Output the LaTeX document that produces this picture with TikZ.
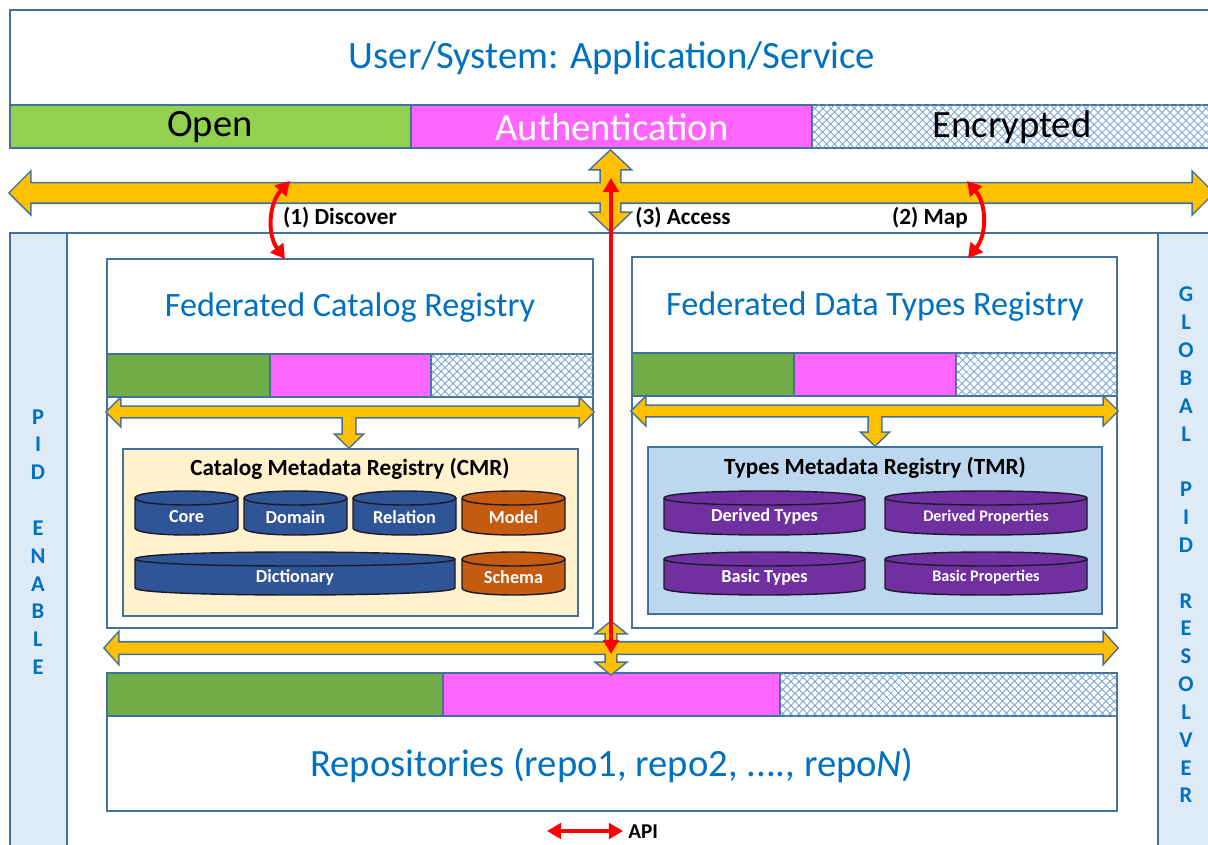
\documentclass[tikz,border=0pt]{standalone}
\usepackage{fontspec}
\setmainfont{Carlito}
\usetikzlibrary{arrows.meta,patterns.meta,fit}
\definecolor{bd}{HTML}{41719C}
\definecolor{tblue}{HTML}{0070C0}
\definecolor{gOpen}{HTML}{92D050}
\definecolor{gDark}{HTML}{70AD47}
\definecolor{mag}{HTML}{FF66FF}
\definecolor{orng}{HTML}{FFC000}
\definecolor{panel}{HTML}{DEEBF7}
\definecolor{cmrfill}{HTML}{FFF2CC}
\definecolor{tmrfill}{HTML}{BDD7EE}
\definecolor{cylblue}{HTML}{2F5597}
\definecolor{cylor}{HTML}{C55A11}
\definecolor{cylpur}{HTML}{7030A0}
\definecolor{hatch}{HTML}{6A97D0}
\definecolor{cylline}{HTML}{1A1A2A}

\tikzset{
  every node/.style={inner sep=0pt},
  box/.style={draw=bd, line width=1.2pt, fill=white, inner sep=0pt},
  encbox/.style={box,
    postaction={pattern={Lines[angle=45,distance=4pt,line width=0.7pt]}, pattern color=hatch},
    postaction={pattern={Lines[angle=-45,distance=4pt,line width=0.7pt]}, pattern color=hatch}},
  bigtxt/.style={font=\fontsize{27.5}{33}\selectfont},
  regtxt/.style={font=\fontsize{24.3}{29}\selectfont, text=tblue},
  lbltxt/.style={font=\fontsize{16.5}{20}\selectfont\bfseries},
  vtxt/.style={font=\fontsize{16}{19.8}\selectfont\bfseries, text=tblue, align=center},
  cyltxt/.style={font=\fontsize{13}{15}\selectfont\bfseries, text=white},
  cylsmall/.style={font=\fontsize{11.5}{14}\selectfont\bfseries, text=white},
  cylb/.style={draw=cylline, line width=1pt},
  redarr/.style={draw=red, line width=2.8pt, {Triangle[length=10pt,width=11pt]}-{Triangle[length=10pt,width=11pt]}}
}

% horizontal double block arrow: style, xL, xR, y, shaft half, head half, head length
\newcommand{\oh}[7]{\path[#1] (#2,#4) -- ({#2+#7},{#4-#6}) -- ({#2+#7},{#4-#5}) -- ({#3-#7},{#4-#5}) -- ({#3-#7},{#4-#6}) -- (#3,#4) -- ({#3-#7},{#4+#6}) -- ({#3-#7},{#4+#5}) -- ({#2+#7},{#4+#5}) -- ({#2+#7},{#4+#6}) -- cycle;}
% vertical double block arrow: style, x, yT, yB, shaft half, head half, head length
\newcommand{\ov}[7]{\path[#1] (#2,#3) -- ({#2+#6},{#3+#7}) -- ({#2+#5},{#3+#7}) -- ({#2+#5},{#4-#7}) -- ({#2+#6},{#4-#7}) -- (#2,#4) -- ({#2-#6},{#4-#7}) -- ({#2-#5},{#4-#7}) -- ({#2-#5},{#3+#7}) -- ({#2-#6},{#3+#7}) -- cycle;}
% down block arrow: style, x, y0, ytip, shaft half, head half, head length
\newcommand{\od}[7]{\path[#1] ({#2-#5},#3) -- ({#2-#5},{#4-#7}) -- ({#2-#6},{#4-#7}) -- (#2,#4) -- ({#2+#6},{#4-#7}) -- ({#2+#5},{#4-#7}) -- ({#2+#5},#3) -- cycle;}
\newcommand{\allorange}[1]{%
  \oh{#1}{10}{1213}{193}{9.5}{20}{20}
  \ov{#1}{610.5}{151}{231}{9.5}{19}{18}
  \oh{#1}{107}{593}{412}{5}{13}{13}
  \od{#1}{349}{412}{447}{6}{12.5}{12}
  \oh{#1}{632}{1117}{411}{5}{13}{13}
  \od{#1}{875}{411}{445}{6}{12.5}{12}
  \oh{#1}{105}{1117}{648}{5.5}{14.5}{13}
  \ov{#1}{611}{622}{674}{5}{13.5}{11}
}
% cylinder: name, x1, y1, x2, y2, fill, text, text style
\newcommand{\cyl}[8]{%
  \draw[cylb, fill=#6] (#2,{#3+7}) -- (#2,{#5-7}) .. controls (#2,{#5+2.33}) and (#4,{#5+2.33}) .. (#4,{#5-7}) -- (#4,{#3+7}) .. controls (#4,{#3-2.33}) and (#2,{#3-2.33}) .. (#2,{#3+7}) -- cycle;
  \draw[cylb] (#2,{#3+7}) .. controls (#2,{#3+16.33}) and (#4,{#3+16.33}) .. (#4,{#3+7});
  \node[#8] (#1) at ({(#2+#4)/2},{(#3+#5)/2+4}) {#7};
}

\begin{document}
\begin{tikzpicture}[x=0.025cm, y=-0.025cm]
\useasboundingbox (0,0) rectangle (1208,845);
\clip (0,0) rectangle (1208,845);

% main container and side panels
\node[box, fit={(10,233)(1215,870)}] (main) {};
\node[box, fill=panel, fit={(10,233)(67,870)}] (pidl) {};
\node[box, fill=panel, fit={(1158,233)(1215,870)}] (pidr) {};
\node[vtxt] (pidltxt) at (38,542) {P\\I\\D\\\mbox{}\\E\\N\\A\\B\\L\\E};
\node[vtxt] (pidrtxt) at (1186,545) {G\\L\\O\\B\\A\\L\\\mbox{}\\P\\I\\D\\\mbox{}\\R\\E\\S\\O\\L\\V\\E\\R};

% top box
\node[box, fit={(10,10)(1215,148)}] (top) {};
\node[box, fill=gOpen, fit={(10,105)(411,148)}] (sopen) {};
\node[box, fill=mag, fit={(411,105)(812,148)}] (sauth) {};
\node[encbox, fit={(812,105)(1215,148)}] (senc) {};
\node[bigtxt, text=tblue] (ttl) at (612,58) {User/System: Application/Service};
\node[bigtxt] (open) at (210,127) {Open};
\node[bigtxt, text=white] (auth) at (612,127) {Authentication};
\node[bigtxt] (enc) at (1012,127) {Encrypted};

% Federated Catalog Registry
\node[box, fit={(107,259)(593,628)}] (cat) {};
\node[box, fill=gDark, fit={(107,354)(270,397)}] (catg) {};
\node[box, fill=mag, fit={(270,354)(431,397)}] (catm) {};
\node[encbox, fit={(431,354)(593,397)}] (cate) {};
\node[regtxt] (catttl) at (350,308) {Federated Catalog Registry};
\node[box, fill=cmrfill, fit={(123,449)(578,616)}] (cmr) {};
\node[lbltxt] (cmrttl) at (350,469) {Catalog Metadata Registry (CMR)};
\cyl{core}{135}{491}{238}{535}{cylblue}{Core}{cyltxt}
\cyl{domain}{244}{491}{347}{535}{cylblue}{Domain}{cyltxt}
\cyl{relation}{353}{491}{456}{535}{cylblue}{Relation}{cyltxt}
\cyl{model}{462}{491}{565}{535}{cylor}{Model}{cyltxt}
\cyl{dict}{135}{552}{455}{595}{cylblue}{Dictionary}{cyltxt}
\cyl{schema}{462}{552}{565}{595}{cylor}{Schema}{cyltxt}

% Federated Data Types Registry
\node[box, fit={(632,257)(1117,628)}] (typ) {};
\node[box, fill=gDark, fit={(632,353)(794,396)}] (typg) {};
\node[box, fill=mag, fit={(794,353)(956,396)}] (typm) {};
\node[encbox, fit={(956,353)(1117,396)}] (type) {};
\node[regtxt] (typttl) at (875,307) {Federated Data Types Registry};
\node[box, fill=tmrfill, fit={(648,447)(1102,614)}] (tmr) {};
\node[lbltxt] (tmrttl) at (875,468) {Types Metadata Registry (TMR)};
\cyl{dtypes}{664}{491}{865}{535}{cylpur}{Derived Types}{cyltxt}
\cyl{dprops}{885}{491}{1087}{535}{cylpur}{Derived Properties}{cylsmall}
\cyl{btypes}{664}{552}{865}{595}{cylpur}{Basic Types}{cyltxt}
\cyl{bprops}{885}{552}{1087}{595}{cylpur}{Basic Properties}{cylsmall}

% Repositories
\node[box, fit={(107,673)(1117,811)}] (repo) {};
\node[box, fill=gDark, fit={(107,673)(443,716)}] (repog) {};
\node[box, fill=mag, fit={(443,673)(780,716)}] (repom) {};
\node[encbox, fit={(780,673)(1117,716)}] (repoe) {};
\node[bigtxt, text=tblue] (repotxt) at (612,765) {Repositories (repo1, repo2, ...., repo\textit{N})};

% orange block arrows (outline pass, then fill pass for a merged look)
\allorange{draw=bd, line width=2.2pt}
\allorange{fill=orng}

% red API arrows
\coordinate (d1) at (290,181);
\coordinate (d2) at (285,259);
\coordinate (m1) at (967,181);
\coordinate (m2) at (968,258);
\coordinate (a1) at (611,178);
\coordinate (a2) at (611,654);
\coordinate (api1) at (547,831);
\coordinate (api2) at (623,831);
\draw[redarr] (d1) to[bend right=40] (d2);
\draw[redarr] (m1) to[bend left=40] (m2);
\draw[redarr] (a1) -- (a2);
\draw[redarr] (api1) -- (api2);

\node[lbltxt] (disc) at (340,218) {(1) Discover};
\node[lbltxt] (acc) at (683,218) {(3) Access};
\node[lbltxt] (map) at (930,218) {(2) Map};
\node[font=\fontsize{15}{18}\selectfont\bfseries, anchor=west] (apitxt) at (628,832) {API};
\end{tikzpicture}
\end{document}
